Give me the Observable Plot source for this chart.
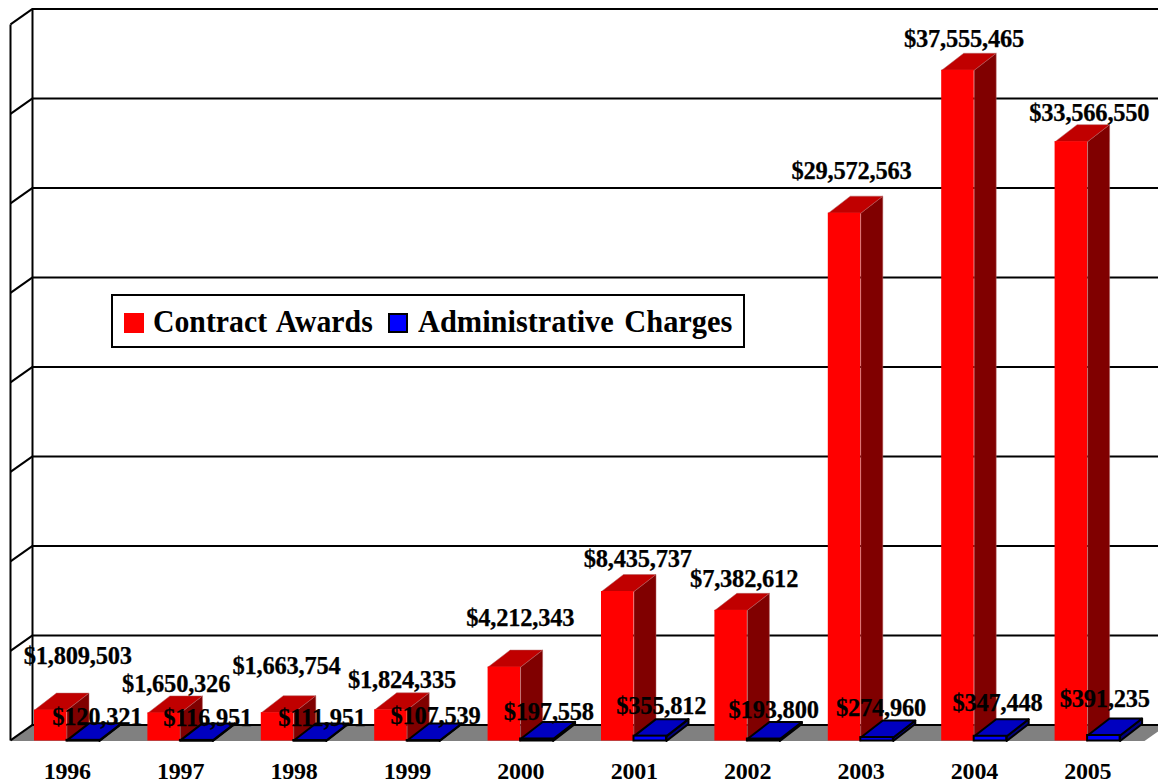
<!DOCTYPE html>
<html>
<head>
<meta charset="utf-8">
<script src="https://cdn.jsdelivr.net/npm/d3@7"></script>
<script src="https://cdn.jsdelivr.net/npm/@observablehq/plot@0.6"></script>
<style>
  html, body { margin: 0; padding: 0; background: #fff; }
  #wrap { position: relative; width: 1158px; height: 783px; overflow: hidden; }
  #legend { position: absolute; left: 111px; top: 294px; width: 630px; height: 50px; border: 2px solid #000;
    background: #fff; font: bold 31px "Liberation Serif", serif; color: #000; }
  #legend span { position: absolute; white-space: nowrap; word-spacing: 3px; top: 10px; line-height: 32px; transform-origin: left center; }
  #legend i { position: absolute; display: block; box-sizing: border-box; width: 20px; height: 20px; top: 17px; }
</style>
</head>
<body>
<div id="wrap">
  <div id="chart"></div>
  <div id="legend">
    <i style="left:11px;background:#ff0000"></i><span style="left:40px;transform:scaleX(0.96)">Contract Awards</span>
    <i style="left:275px;background:#0000ff;border:2px solid #000"></i><span style="left:305px;transform:scaleX(0.98)">Administrative Charges</span>
  </div>
</div>
<script>
const years = [1996, 1997, 1998, 1999, 2000, 2001, 2002, 2003, 2004, 2005];
const contractAwards = [1809503, 1650326, 1663754, 1824335, 4212343, 8435737, 7382612, 29572563, 37555465, 33566550];
const adminCharges = [120321, 116951, 111951, 107539, 197558, 355812, 193800, 274960, 347448, 391235];
const gridValues = [0, 5e6, 10e6, 15e6, 20e6, 25e6, 30e6, 35e6, 40e6];

// Hand-placed label nudges of the original chart, in pixels [dx, dy]
const contractNudge = [[27,-52],[12,-27],[9,-45],[11,-28],[16,-47],[20,-31],[13,-30],[7,-40],[6,-30],[18,-27]];
const adminNudge = [[14,-22],[11,-21],[12,-21],[12,-23],[12,-25],[11,-28],[10,-27],[4,-28],[7,-32],[1,-35]];

const fmt = d3.format("$,");
const axisMax = 40e6;
const gap = 0.2116, barW = 0.2866;            // in category units
const depthX = 0.194, depthY = axisMax * 15.5 / 716; // 3-D receding offsets in data units
const barDepthY = axisMax * 17 / 716;
const barDrop = 1.5, base = axisMax * barDrop / 716; // bars sit a hair lower than the grid

function faces(values, slot, id) {
  return values.flatMap((v, i) => {
    const x0 = i + gap + slot * barW, x1 = x0 + barW;
    const quad = (face, pts) => pts.map(([x, y]) => ({id: `${id}-${i}-${face}`, face, x, y}));
    return [
      ...quad("side", [[x1, base], [x1, v], [x1 + depthX, v + barDepthY], [x1 + depthX, barDepthY + base], [x1, base]]),
      ...quad("top", [[x0, v], [x1, v], [x1 + depthX, v + barDepthY], [x0 + depthX, v + barDepthY], [x0, v]])
    ];
  });
}
const fronts = (values, slot) => values.map((v, i) => ({x1: i + gap + slot * barW, x2: i + gap + (slot + 1) * barW, v}));
const onFace = (rows, face) => rows.filter(d => d.face === face);

const redFaces = faces(contractAwards, 0, "c");
const blueFaces = faces(adminCharges, 1, "a");

const floor = [[0, 0], [10, 0], [10 + depthX, depthY], [depthX, depthY]].map(([x, y]) => ({x, y}));

const labelMarks = (values, slot, nudges) => values.map((v, i) => Plot.text([v], {
  x: i + gap + (slot + 0.5) * barW, y: d => d, text: d => fmt(d),
  dx: nudges[i][0], dy: nudges[i][1],
  fontSize: 24.5, fontWeight: "bold", fill: "#000", stroke: "#000", strokeWidth: 0.25, textAnchor: "middle", lineAnchor: "middle"
}));

const chart = Plot.plot({
  width: 1158, height: 783,
  marginLeft: 10, marginRight: 14, marginTop: 24.5, marginBottom: 42.5,
  style: {fontFamily: "'Liberation Serif', serif", background: "#fff", overflow: "hidden", letterSpacing: "-0.22px"},
  x: {domain: [0, 10], axis: null},
  y: {domain: [0, axisMax], axis: null},
  marks: [
    // floor and walls
    Plot.line(floor, {x: "x", y: "y", fill: "#808080", stroke: "none"}),
    Plot.ruleY(gridValues, {y: d => d + depthY, x1: depthX, x2: 10 + depthX, stroke: "#000", strokeWidth: 2, strokeOpacity: 1, dy: -0.6}),
    Plot.link(gridValues, {x1: 0, x2: depthX, y1: d => d, y2: d => d + depthY, stroke: "#000", strokeWidth: 2, dy: -0.6}),
    Plot.ruleX([0], {y1: 0, y2: axisMax, stroke: "#000", strokeWidth: 2}),
    Plot.ruleX([depthX], {y1: depthY, y2: axisMax + depthY, stroke: "#000", strokeWidth: 2}),

    // red bars
    Plot.line(onFace(redFaces, "side"), {x: "x", y: "y", z: "id", fill: "#800000", stroke: "#b06060", strokeWidth: 0.5, dy: barDrop}),
    Plot.line(onFace(redFaces, "top"), {x: "x", y: "y", z: "id", fill: "#c00000", stroke: "#b06060", strokeWidth: 0.5, dy: barDrop}),
    Plot.rect(fronts(contractAwards, 0), {x1: "x1", x2: "x2", y1: base, y2: "v", fill: "#ff0000", dy: barDrop}),

    // blue bars
    Plot.line(onFace(blueFaces, "side"), {x: "x", y: "y", z: "id", fill: "#000080", stroke: "#000", strokeWidth: 2, dy: barDrop}),
    Plot.line(onFace(blueFaces, "top"), {x: "x", y: "y", z: "id", fill: "#0000c0", stroke: "#000", strokeWidth: 2, dy: barDrop}),
    Plot.rect(fronts(adminCharges, 1), {x1: "x1", x2: "x2", y1: base, y2: "v", fill: "#0000ff", stroke: "#000", strokeWidth: 2, dy: barDrop}),

    // value labels
    ...labelMarks(contractAwards, 0, contractNudge),
    ...labelMarks(adminCharges, 1, adminNudge),

    // year axis
    Plot.axisX(years.map((y, i) => i + 0.5), {
      tickFormat: d => String(years[Math.floor(d)]), tickSize: 0, tickPadding: 21, label: null,
      fontSize: 24, fontWeight: "bold", fill: "#000", stroke: "#000", strokeWidth: 0.25, lineAnchor: "top"
    })
  ]
});
document.getElementById("chart").appendChild(chart);
</script>
</body>
</html>
